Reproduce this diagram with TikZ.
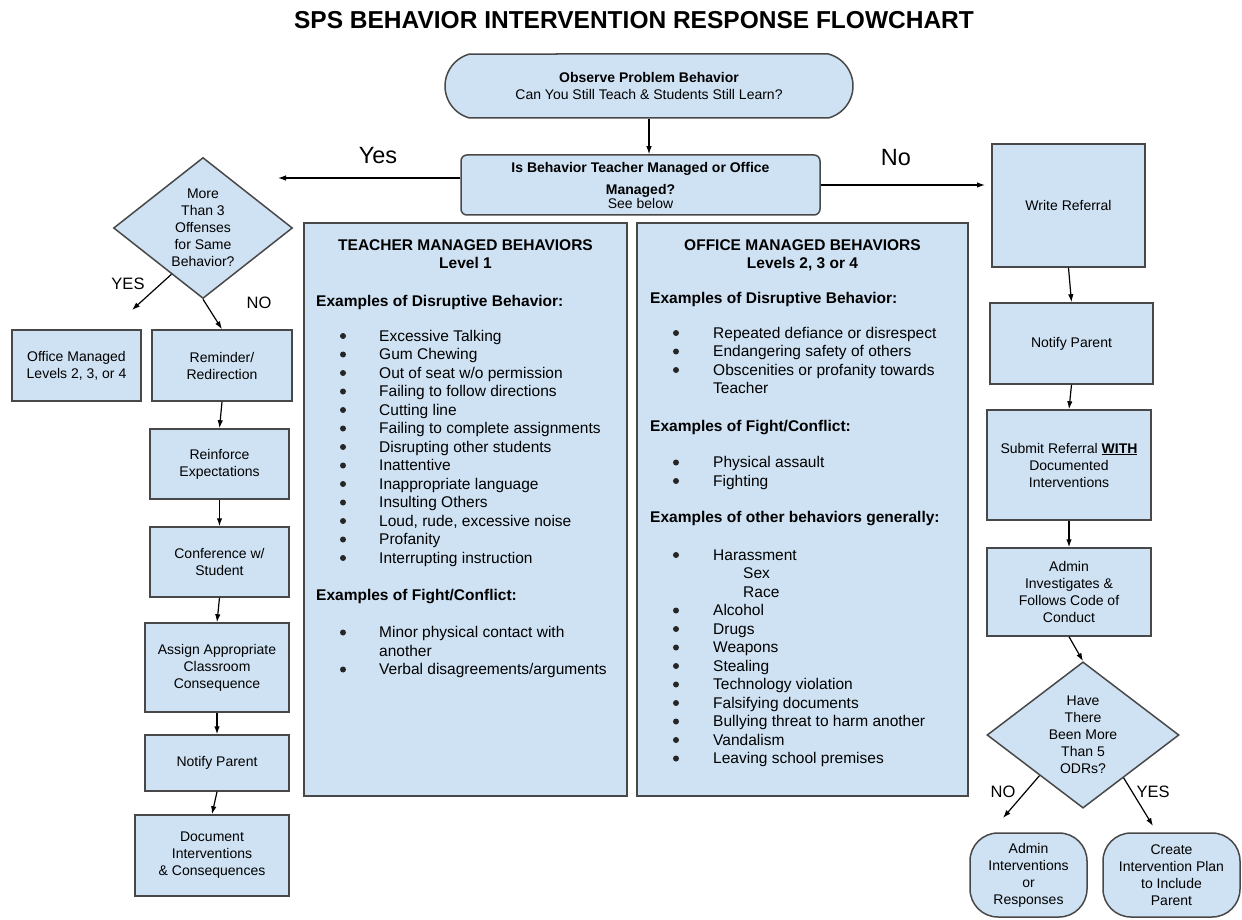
\documentclass[tikz,border=0pt]{standalone}
\usepackage{fontspec}
\setmainfont{Liberation Sans}
\usepackage{tikz}
\usetikzlibrary{arrows.meta, positioning, shapes.geometric, shapes.misc, calc}
\definecolor{boxfill}{RGB}{207, 226, 243}
\definecolor{boxline}{RGB}{72, 72, 72}
\newcommand{\boxfont}{\fontsize{14}{17}\selectfont}
\newcommand{\listfont}{\fontsize{15.5}{18.5}\selectfont}

\begin{document}
\begin{tikzpicture}[x=1pt, y=-1pt,
  every node/.style={font=\boxfont},
  box/.style={draw=boxline, line width=1.5pt, fill=boxfill, align=center, inner sep=2pt},
  decision/.style={box, diamond, inner sep=0pt},
  arrow/.style={-{Latex[length=8pt, width=5.5pt]}, line width=1.2pt},
  bullet/.style={circle, fill=black!85, inner sep=0pt, minimum size=6pt},
  item/.style={anchor=base west, inner sep=0pt, font=\listfont},
  head/.style={anchor=base west, inner sep=0pt, font=\listfont\bfseries},
  lbl/.style={inner sep=0pt, font=\fontsize{16.5}{18}\selectfont}]
  \useasboundingbox (0,0) rectangle (1242,920);

  % Title
  \node[font=\fontsize{24.5}{28}\selectfont\bfseries] (title) at (634,20) {SPS BEHAVIOR INTERVENTION RESPONSE FLOWCHART};

  % Start and first question
  \node[box, rounded rectangle, rounded rectangle arc length=150, minimum width=412, minimum height=64] (observe) at (649,86) {\textbf{Observe Problem Behavior}\\Can You Still Teach \& Students Still Learn?};
  \node[box, rounded corners=6pt, minimum width=359, minimum height=60] (decide) at (640.5,185) {\textbf{Is Behavior Teacher Managed or Office}\\[5pt]\textbf{Managed?}\\[-3pt]See below};
  \draw[arrow] (observe.south) -- (observe.south |- decide.north);

  % Yes / No branches
  \coordinate (yesend) at (278,178);
  \coordinate (noend) at (985,185);
  \draw[arrow] (decide.west |- yesend) -- (yesend);
  \draw[arrow] (decide.east) -- (noend);
  \node[lbl, font=\fontsize{23.5}{26}\selectfont] (yes) at (378,156) {Yes};
  \node[lbl, font=\fontsize{23.5}{26}\selectfont] (no) at (896,158) {No};

  % Teacher managed side
  \node[decision, minimum width=179, minimum height=141] (offense) at (203,228) {More\\Than 3\\Offenses\\for Same\\Behavior?};
  \node[box, minimum width=129, minimum height=71] (officem) at (76.5,365.5) {Office Managed\\Levels 2, 3, or 4};
  \node[box, minimum width=140, minimum height=71] (remind) at (222,365.5) {Reminder/\\Redirection};
  \node[box, minimum width=139, minimum height=70] (reinforce) at (219.5,464) {Reinforce\\Expectations};
  \node[box, minimum width=139, minimum height=70] (confer) at (219.5,562) {Conference w/\\Student};
  \node[box, minimum width=144, minimum height=89] (assign) at (217,667.5) {Assign Appropriate\\Classroom\\Consequence};
  \node[box, minimum width=144, minimum height=56] (tnotify) at (217,763) {Notify Parent};
  \node[box, minimum width=154, minimum height=81] (document) at (212,855.5) {Document\\Interventions\\\& Consequences};

  \coordinate (offyes) at ($(offense.south)!0.35!(offense.west)$);
  \coordinate (offyesend) at (132,310);
  \draw[arrow] (offyes) -- (offyesend);
  \draw[arrow] (offense.south) -- (remind.north);
  \node[lbl] (offyeslbl) at (128,284) {YES};
  \node[lbl] (offnolbl) at (259,303) {NO};
  \draw[arrow] (remind.south) -- (reinforce.north);
  \draw[arrow] (reinforce.south) -- (confer.north);
  \draw[arrow] (confer.south) -- (assign.north);
  \draw[arrow] (assign.south) -- (tnotify.north);
  \draw[arrow] (tnotify.south) -- (document.north);

  % Teacher managed behaviors
  \node[box, minimum width=323, minimum height=573] (tbox) at (465.5,509.5) {};
  \node[inner sep=0pt, anchor=base, font=\listfont\bfseries] (ttitle) at (465.5,251) {TEACHER MANAGED BEHAVIORS};
  \node[inner sep=0pt, anchor=base, font=\listfont\bfseries] (tlevel) at (465.5,269) {Level 1};
  \node[head] (tdisrupt) at (316,306) {Examples of Disruptive Behavior:};
  \foreach \txt [count=\i from 0] in {Excessive Talking, Gum Chewing, Out of seat w/o permission, Failing to follow directions, Cutting line, Failing to complete assignments, Disrupting other students, Inattentive, Inappropriate language, Insulting Others, {Loud, rude, excessive noise}, Profanity, Interrupting instruction} {
    \node[bullet] (tb\i) at (343,336+18.5*\i) {};
    \node[item] (ti\i) at (379,341+18.5*\i) {\txt};
  }
  \node[head] (tfight) at (316,600) {Examples of Fight/Conflict:};
  \node[bullet] (tfb1) at (343,632.5) {};
  \node[item] (tfi1) at (379,637.5) {Minor physical contact with};
  \node[item] (tfi1b) at (379,656) {another};
  \node[bullet] (tfb2) at (343,669.5) {};
  \node[item] (tfi2) at (379,674.5) {Verbal disagreements/arguments};

  % Office managed behaviors
  \node[box, minimum width=331, minimum height=573] (obox) at (802.5,509.5) {};
  \node[inner sep=0pt, anchor=base, font=\listfont\bfseries] (otitle) at (802.5,251) {OFFICE MANAGED BEHAVIORS};
  \node[inner sep=0pt, anchor=base, font=\listfont\bfseries] (olevel) at (802.5,269) {Levels 2, 3 or 4};
  \node[head] (odisrupt) at (650,303) {Examples of Disruptive Behavior:};
  \foreach \txt [count=\i from 0] in {Repeated defiance or disrespect, Endangering safety of others, Obscenities or profanity towards} {
    \node[bullet] (ob\i) at (676,333+18.5*\i) {};
    \node[item] (oi\i) at (713,338+18.5*\i) {\txt};
  }
  \node[item] (oi2b) at (713,393.5) {Teacher};
  \node[head] (ofight) at (650,431) {Examples of Fight/Conflict:};
  \foreach \txt [count=\i from 0] in {Physical assault, Fighting} {
    \node[bullet] (ofb\i) at (676,462.5+18.5*\i) {};
    \node[item] (ofi\i) at (713,467.5+18.5*\i) {\txt};
  }
  \node[head] (oother) at (650,522) {Examples of other behaviors generally:};
  \foreach \y/\txt [count=\i] in {560/Harassment, 615.5/Alcohol, 634/Drugs, 652.5/Weapons, 671/Stealing, 689.5/Technology violation, 708/Falsifying documents, 726.5/Bullying threat to harm another, 745/Vandalism, 763.5/Leaving school premises} {
    \node[bullet] (oob\i) at (676,\y-5) {};
    \node[item] (ooi\i) at (713,\y) {\txt};
  }
  \node[item] (osex) at (743,578.5) {Sex};
  \node[item] (orace) at (743,597) {Race};

  % Office managed side
  \node[box, minimum width=153, minimum height=123] (write) at (1068.5,205.5) {Write Referral};
  \node[box, minimum width=163, minimum height=81] (onotify) at (1071.5,343.5) {Notify Parent};
  \node[box, minimum width=164, minimum height=110] (submit) at (1069,465) {Submit Referral \textbf{\underline{WITH}}\\Documented\\Interventions};
  \node[box, minimum width=164, minimum height=88] (admin) at (1069,592) {Admin\\Investigates \&\\Follows Code of\\Conduct};
  \node[decision, minimum width=192, minimum height=141] (odrs) at (1083,735) {Have\\There\\Been More\\Than 5\\ODRs?};
  \node[box, rounded corners=28pt, minimum width=117, minimum height=84] (adminint) at (1028.5,875) {Admin\\Interventions\\or\\Responses};
  \node[box, rounded corners=28pt, minimum width=137, minimum height=84] (plan) at (1171.5,875) {Create\\Intervention Plan\\to Include\\Parent};

  \draw[arrow] (write.south) -- (onotify.north);
  \draw[arrow] (onotify.south) -- (submit.north);
  \draw[arrow] (submit.south) -- (admin.north);
  \draw[arrow] (admin.south) -- (odrs.north);
  \coordinate (odrno) at ($(odrs.south)!0.45!(odrs.west)$);
  \coordinate (odrnoend) at (1003,818);
  \coordinate (odryes) at ($(odrs.south)!0.42!(odrs.east)$);
  \coordinate (odryesend) at (1153,826);
  \draw[arrow] (odrno) -- (odrnoend);
  \draw[arrow] (odryes) -- (odryesend);
  \node[lbl] (odrnolbl) at (1003,792) {NO};
  \node[lbl] (odryeslbl) at (1153,792) {YES};
\end{tikzpicture}
\end{document}
